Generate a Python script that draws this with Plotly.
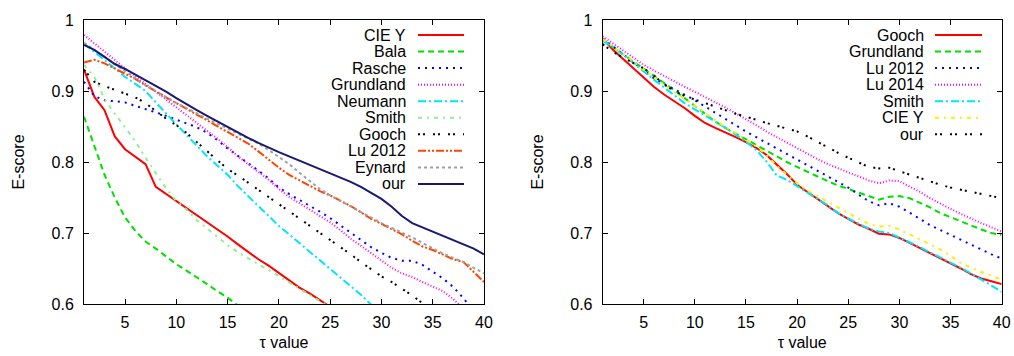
import plotly.graph_objects as go

# ---------------- data ----------------
TAU = list(range(1, 41))
X_TICKS = [5, 10, 15, 20, 25, 30, 35, 40]
Y_TICKS = [0.6, 0.7, 0.8, 0.9, 1.0]
Y_TICKTEXT = ["0.6", "0.7", "0.8", "0.9", "1"]

# left panel
L_CIE_Y = [0.93, 0.892, 0.873, 0.836, 0.818, 0.808, 0.797, 0.765, 0.755, 0.745,
           0.735, 0.726, 0.716, 0.706, 0.695, 0.684, 0.673, 0.663, 0.654, 0.644,
           0.634, 0.623, 0.615, 0.605, 0.596]
L_BALA = [0.864, 0.822, 0.782, 0.75, 0.722, 0.703, 0.688, 0.678, 0.667, 0.656,
          0.647, 0.638, 0.628, 0.618, 0.609, 0.598]
L_RASCHE = [0.913, 0.893, 0.887, 0.885, 0.884, 0.879, 0.875, 0.870, 0.865, 0.860,
            0.855, 0.849, 0.841, 0.831, 0.819, 0.809, 0.799, 0.788, 0.777, 0.764,
            0.755, 0.747, 0.738, 0.730, 0.721, 0.711, 0.701, 0.691, 0.680, 0.672,
            0.665, 0.661, 0.661, 0.655, 0.646, 0.636, 0.624, 0.608, 0.590]
L_GRUNDLAND = [0.979, 0.967, 0.955, 0.943, 0.932, 0.921, 0.910, 0.899, 0.888, 0.877,
               0.866, 0.856, 0.845, 0.833, 0.821, 0.808, 0.797, 0.786, 0.775, 0.762,
               0.751, 0.742, 0.733, 0.724, 0.715, 0.704, 0.692, 0.682, 0.672, 0.661,
               0.651, 0.643, 0.638, 0.631, 0.625, 0.618, 0.607, 0.593]
L_NEUMANN = [0.967, 0.955, 0.943, 0.931, 0.920, 0.910, 0.900, 0.884, 0.868, 0.853,
             0.838, 0.823, 0.808, 0.795, 0.782, 0.766, 0.752, 0.739, 0.725, 0.710,
             0.698, 0.686, 0.674, 0.662, 0.650, 0.638, 0.626, 0.613, 0.599]
L_SMITH = [0.937, 0.92, 0.889, 0.868, 0.849, 0.829, 0.806, 0.784, 0.763, 0.745,
           0.733, 0.718, 0.706, 0.694, 0.683, 0.673, 0.664, 0.656, 0.648, 0.639,
           0.630, 0.621, 0.612, 0.604, 0.596]
L_GOOCH = [0.93, 0.913, 0.907, 0.902, 0.896, 0.891, 0.883, 0.872, 0.861, 0.852,
           0.841, 0.828, 0.815, 0.803, 0.790, 0.781, 0.771, 0.761, 0.750, 0.741,
           0.731, 0.721, 0.711, 0.701, 0.691, 0.681, 0.670, 0.659, 0.649, 0.639,
           0.631, 0.622, 0.612, 0.601, 0.590]
L_LU2012 = [0.940, 0.944, 0.939, 0.932, 0.924, 0.917, 0.908, 0.899, 0.891, 0.883,
            0.875, 0.866, 0.858, 0.850, 0.842, 0.834, 0.826, 0.815, 0.803, 0.792,
            0.782, 0.774, 0.766, 0.759, 0.753, 0.746, 0.738, 0.729, 0.720, 0.713,
            0.706, 0.698, 0.689, 0.681, 0.676, 0.669, 0.663, 0.659, 0.645, 0.631]
L_EYNARD = [0.968, 0.958, 0.948, 0.937, 0.928, 0.918, 0.908, 0.900, 0.891, 0.883,
            0.876, 0.868, 0.861, 0.854, 0.847, 0.840, 0.834, 0.826, 0.817, 0.807,
            0.797, 0.785, 0.773, 0.762, 0.753, 0.745, 0.737, 0.729, 0.722, 0.714,
            0.707, 0.701, 0.694, 0.686, 0.678, 0.671, 0.665, 0.659, 0.651, 0.643]
L_OUR = [0.965, 0.958, 0.948, 0.938, 0.931, 0.923, 0.915, 0.908, 0.899, 0.890,
         0.881, 0.873, 0.865, 0.857, 0.849, 0.842, 0.834, 0.827, 0.820, 0.814,
         0.808, 0.802, 0.796, 0.791, 0.784, 0.778, 0.772, 0.765, 0.757, 0.748,
         0.737, 0.724, 0.714, 0.708, 0.702, 0.697, 0.690, 0.684, 0.678, 0.670]

# right panel
R_GOOCH = [0.974, 0.958, 0.945, 0.932, 0.920, 0.906, 0.895, 0.886, 0.876, 0.865,
           0.855, 0.848, 0.842, 0.835, 0.828, 0.820, 0.810, 0.797, 0.783, 0.768,
           0.758, 0.748, 0.737, 0.728, 0.720, 0.712, 0.706, 0.699, 0.698, 0.693,
           0.686, 0.679, 0.672, 0.665, 0.657, 0.650, 0.642, 0.636, 0.632, 0.628]
R_GRUNDLAND = [0.972, 0.962, 0.952, 0.942, 0.932, 0.921, 0.911, 0.901, 0.890, 0.879,
               0.868, 0.857, 0.848, 0.840, 0.831, 0.823, 0.815, 0.807, 0.800, 0.793,
               0.786, 0.780, 0.773, 0.767, 0.762, 0.756, 0.751, 0.747, 0.751, 0.752,
               0.749, 0.743, 0.736, 0.728, 0.722, 0.716, 0.710, 0.705, 0.700, 0.697]
R_LU2012 = [0.974, 0.963, 0.952, 0.941, 0.930, 0.918, 0.910, 0.903, 0.895, 0.887,
            0.878, 0.869, 0.860, 0.852, 0.843, 0.835, 0.827, 0.819, 0.811, 0.803,
            0.795, 0.788, 0.780, 0.772, 0.764, 0.754, 0.745, 0.739, 0.742, 0.737,
            0.729, 0.720, 0.711, 0.704, 0.697, 0.690, 0.683, 0.676, 0.670, 0.664]
R_LU2014 = [0.977, 0.967, 0.956, 0.946, 0.937, 0.929, 0.921, 0.913, 0.906, 0.899,
            0.891, 0.884, 0.877, 0.869, 0.861, 0.852, 0.843, 0.835, 0.827, 0.819,
            0.811, 0.804, 0.797, 0.791, 0.785, 0.779, 0.774, 0.770, 0.774, 0.773,
            0.766, 0.758, 0.749, 0.741, 0.734, 0.727, 0.720, 0.714, 0.708, 0.702]
R_SMITH = [0.971, 0.962, 0.951, 0.939, 0.927, 0.916, 0.905, 0.894, 0.883, 0.874,
           0.866, 0.857, 0.848, 0.839, 0.829, 0.817, 0.801, 0.781, 0.775, 0.766,
           0.757, 0.748, 0.739, 0.728, 0.720, 0.713, 0.706, 0.702, 0.700, 0.694,
           0.687, 0.680, 0.673, 0.666, 0.658, 0.651, 0.643, 0.635, 0.626, 0.617]
R_CIE_Y = [0.973, 0.963, 0.952, 0.941, 0.930, 0.919, 0.909, 0.899, 0.889, 0.879,
           0.869, 0.859, 0.849, 0.841, 0.832, 0.822, 0.810, 0.795, 0.782, 0.770,
           0.760, 0.752, 0.744, 0.735, 0.727, 0.720, 0.713, 0.709, 0.710, 0.705,
           0.698, 0.691, 0.684, 0.677, 0.668, 0.658, 0.651, 0.645, 0.640, 0.634]
R_OUR = [0.966, 0.955, 0.947, 0.940, 0.932, 0.922, 0.909, 0.900, 0.893, 0.888,
         0.883, 0.877, 0.872, 0.868, 0.864, 0.859, 0.855, 0.851, 0.847, 0.843,
         0.836, 0.828, 0.820, 0.813, 0.806, 0.799, 0.793, 0.791, 0.792, 0.787,
         0.782, 0.777, 0.772, 0.768, 0.764, 0.761, 0.758, 0.755, 0.752, 0.749]

LEFT_NAMES = ["CIE Y", "Bala", "Rasche", "Grundland", "Neumann", "Smith",
              "Gooch", "Lu 2012", "Eynard", "our"]
LEFT_VALUES = [L_CIE_Y, L_BALA, L_RASCHE, L_GRUNDLAND, L_NEUMANN, L_SMITH,
               L_GOOCH, L_LU2012, L_EYNARD, L_OUR]
RIGHT_NAMES = ["Gooch", "Grundland", "Lu 2012", "Lu 2014", "Smith", "CIE Y", "our"]
RIGHT_VALUES = [R_GOOCH, R_GRUNDLAND, R_LU2012, R_LU2014, R_SMITH, R_CIE_Y, R_OUR]

# ---------------- styles ----------------
LEFT_STYLES = [
    ("#ff0000", "solid"),
    ("#00e000", "6px,4px"),
    ("#0000ff", "2px,5px"),
    ("#ff00ff", "1px,2px"),
    ("#00e5ff", "8px,3px,2px,3px"),
    ("#90ee90", "4px,5px,2px,5px"),
    ("#000000", "2px,3px,2px,8px"),
    ("#ff4500", "8px,2px,2px,2px,2px,2px"),
    ("#a0a0a0", "3px,3px"),
    ("#191970", "solid"),
]
RIGHT_STYLES = [
    ("#ff0000", "solid"),
    ("#00e000", "6px,4px"),
    ("#0000ff", "2px,5px"),
    ("#ff00ff", "1px,2px"),
    ("#00e5ff", "8px,3px,2px,3px"),
    ("#ffee00", "4px,5px,2px,5px"),
    ("#000000", "2px,3px,2px,8px"),
]

W, H = 1014, 356
PLOT_TOP, PLOT_BOT = 20, 304   # pixel rows of the plot box
MT, MB = PLOT_TOP, H - PLOT_BOT
FONT = "Liberation Sans, Arial, Helvetica, sans-serif"


def sx(px):
    return px / W


def sy(py):
    return (PLOT_BOT - py) / (PLOT_BOT - PLOT_TOP)


fig = go.Figure()


def add_panel(names, values, styles, xa, ya):
    for name, vals, (col, dash) in zip(names, values, styles):
        fig.add_trace(go.Scatter(
            x=TAU[:len(vals)], y=vals, mode="lines", name=name,
            line=dict(color=col, width=2, dash=dash),
            xaxis=xa, yaxis=ya, showlegend=False, hoverinfo="skip"))


add_panel(LEFT_NAMES, LEFT_VALUES, LEFT_STYLES, "x", "y")
add_panel(RIGHT_NAMES, RIGHT_VALUES, RIGHT_STYLES, "x2", "y2")


def add_key(names, styles, text_right_px, line_x0_px, line_x1_px, first_row_px, step_px):
    for i, (name, (col, dash)) in enumerate(zip(names, styles)):
        yp = sy(first_row_px + i * step_px)
        fig.add_annotation(x=sx(text_right_px), y=yp, xref="paper", yref="paper",
                           text=name, showarrow=False, xanchor="right", yanchor="middle",
                           font=dict(family=FONT, size=16, color="black"))
        fig.add_shape(type="line", xref="paper", yref="paper",
                      x0=sx(line_x0_px), x1=sx(line_x1_px), y0=yp, y1=yp,
                      line=dict(color=col, width=2, dash=dash))


add_key(LEFT_NAMES, LEFT_STYLES, 408, 418, 464, 35, 16.55)
add_key(RIGHT_NAMES, RIGHT_STYLES, 926, 935, 982, 35, 16.55)

axis_common = dict(
    showline=True, linecolor="black", linewidth=1, mirror="allticks",
    ticks="inside", ticklen=5, tickcolor="black", tickwidth=1,
    showgrid=False, zeroline=False, automargin=False,
    tickfont=dict(family=FONT, size=16, color="black"),
)
xcommon = dict(axis_common, range=[1, 40], tickvals=X_TICKS, ticklabelstandoff=4,
               title=dict(text="τ value", font=dict(family=FONT, size=16, color="black"), standoff=6))
ycommon = dict(axis_common, range=[0.6, 1.0], tickvals=Y_TICKS, ticktext=Y_TICKTEXT,
               ticklabelstandoff=6,
               title=dict(text="E-score", font=dict(family=FONT, size=16, color="black"), standoff=22))

fig.update_layout(
    width=W, height=H,
    margin=dict(l=0, r=0, t=MT, b=MB, pad=0),
    paper_bgcolor="white", plot_bgcolor="white",
    xaxis=dict(xcommon, domain=[sx(84), sx(484)], anchor="y"),
    yaxis=dict(ycommon, domain=[0, 1], anchor="x"),
    xaxis2=dict(xcommon, domain=[sx(602.7), sx(1001.7)], anchor="y2"),
    yaxis2=dict(ycommon, domain=[0, 1], anchor="x2"),
    font=dict(family=FONT, size=16, color="black"),
)

# remove the default 8px page margin so the figure fills the window exactly
fig.write_html("out.html",
               config={"displayModeBar": False},
               post_script="document.body.style.margin='0';"
                           "document.body.style.overflow='hidden';")
